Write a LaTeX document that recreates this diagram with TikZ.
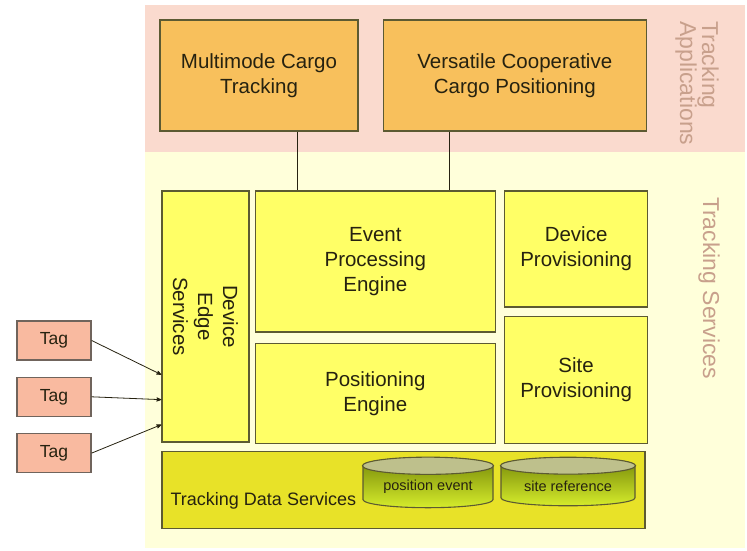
\documentclass[tikz,border=0pt]{standalone}
\usepackage{fontspec}
\setmainfont{Liberation Sans}
\usepackage{tikz}
\usetikzlibrary{arrows, positioning, shapes.geometric, calc}

\definecolor{appband}{RGB}{250,218,206}
\definecolor{svcband}{RGB}{255,255,218}
\definecolor{appbox}{RGB}{248,192,92}
\definecolor{svcbox}{RGB}{255,255,102}
\definecolor{datbox}{RGB}{232,226,40}
\definecolor{tagbox}{RGB}{249,186,160}
\definecolor{storetop}{RGB}{118,136,8}
\definecolor{storebot}{RGB}{214,236,44}
\definecolor{storeend}{RGB}{190,192,140}
\definecolor{edge}{RGB}{92,90,50}
\definecolor{tagedge}{RGB}{112,100,92}
\definecolor{ink}{RGB}{38,34,16}
\definecolor{bandink}{RGB}{200,160,140}

\begin{document}
\begin{tikzpicture}[x = 1pt, y = -1pt, >=stealth', semithick, node distance = 8pt]
  \tikzstyle{every node} = [font = \fontsize{20.5}{25}\selectfont, text = ink, align = center, inner sep = 0pt]
  \tikzstyle{app}   = [draw = edge, fill = appbox, line width = 1.3pt, minimum height = 111pt]
  \tikzstyle{svc}   = [draw = edge, fill = svcbox, line width = 1.3pt]
  \tikzstyle{tag}   = [draw = tagedge, fill = tagbox, line width = 1.3pt, minimum width = 74pt, minimum height = 39pt, font = \fontsize{17.5}{20}\selectfont]
  \tikzstyle{store} = [cylinder, shape border rotate = 90, aspect = 0.18, draw = edge, line width = 1.1pt, top color = storetop, bottom color = storebot, font = \fontsize{14.5}{17}\selectfont]
  \tikzstyle{band}  = [text = bandink, font = \fontsize{23}{22}\selectfont, rotate = -90]
  \tikzstyle{link}  = [draw = ink, line width = 0.8pt]

  \useasboundingbox (0, 0) rectangle (747, 550);
  \fill[appband] (145, 5) rectangle (745, 152);
  \fill[svcband] (145, 152) rectangle (745, 548);

  % applications
  \node[app, minimum width = 198pt] (mct) at (259, 75.5) {Multimode Cargo\\Tracking};
  \node[app, minimum width = 263pt, right = 24pt of mct] (vccp) {Versatile Cooperative\\Cargo Positioning};

  % services
  \node[svc, minimum width = 87pt, minimum height = 251pt] (des) at (205.5, 316.5) {};
  \node[rotate = -90] (desl) at (des) {Device\\Edge\\Services};
  \node[svc, minimum width = 240pt, minimum height = 141pt, right = 5pt of des.north east, anchor = north west] (epe) {Event\\Processing\\Engine};
  \node[svc, minimum width = 240pt, minimum height = 100pt, below = 10pt of epe] (pe) {Positioning\\Engine};
  \node[svc, minimum width = 143pt, minimum height = 116pt, right = 8pt of epe.north east, anchor = north west] (dp) {Device\\Provisioning};
  \node[svc, minimum width = 143pt, minimum height = 127pt, below = of dp] (sp) {Site\\Provisioning};

  % data
  \node[svc, fill = datbox, minimum width = 483pt, minimum height = 77pt, below = of des.south west, anchor = north west] (tds) {};
  \node[font = \fontsize{18}{20}\selectfont, anchor = west] (tdsl) at ([shift = {(9pt, -11pt)}]tds.west) {Tracking Data Services};
  \node[store, minimum width = 130pt, minimum height = 50pt] (pev) at (428, 487) {position event};
  \node[store, minimum width = 134pt, minimum height = 48pt] (srf) at (568, 486) {site reference};
  \foreach \db in {pev, srf}
    \filldraw[draw = edge, fill = storeend, line width = 1.1pt]
      let \p1 = ($(\db.before top)!0.5!(\db.after top)$), \p2 = (\db.top), \p3 = (\db.after top) in
      (\p1) ellipse ({abs(\x3 - \x1)} and {abs(\y2 - \y1)});

  % tags
  \node[tag] (tag1) at (54, 340.5) {Tag};
  \node[tag, below = 16pt of tag1] (tag2) {Tag};
  \node[tag, below = 16pt of tag2] (tag3) {Tag};

  \draw[link] ([xshift = 38pt]mct.south) -- ([xshift = 38pt]mct.south |- epe.north);
  \draw[link] ([xshift = -65.5pt]vccp.south) -- ([xshift = -65.5pt]vccp.south |- epe.north);
  \draw[link, ->] (tag1.east) -- ([yshift = 68pt]des.south west);
  \draw[link, ->] (tag2.east) -- ([yshift = 43pt]des.south west);
  \draw[link, ->] (tag3.east) -- ([yshift = 18pt]des.south west);

  % side labels
  \node[band, align = left, anchor = west] (apps) at (697, 21) {Tracking\\Applications};
  \node[band] (svcs) at (709, 288) {Tracking Services};
\end{tikzpicture}
\end{document}
